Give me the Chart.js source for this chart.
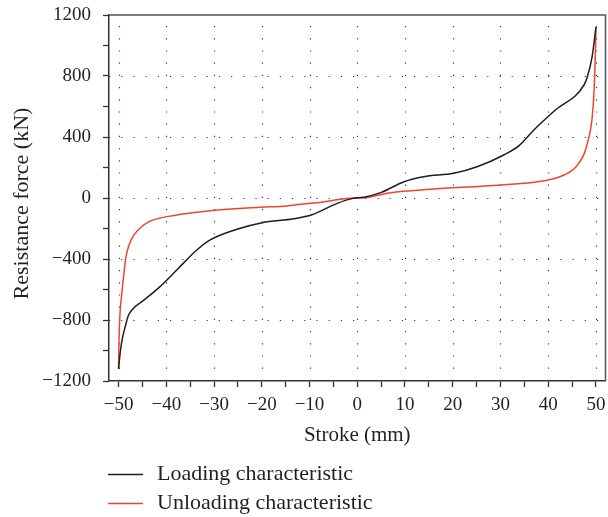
<!DOCTYPE html>
<html>
<head>
<meta charset="utf-8">
<script src="https://cdn.jsdelivr.net/npm/chart.js@4/dist/chart.umd.min.js"></script>
<style>
  html, body { margin: 0; padding: 0; background: #fff; }
  #wrap { width: 608px; height: 517px; }
</style>
</head>
<body>
<div id="wrap"><canvas id="c" width="608" height="517"></canvas></div>
<script>
// ---- Data ----
const loadingStroke = [-50, -49.6, -49.2, -48.6, -48.0, -47.2, -44.5, -41.3, -37.5, -33.6, -30.8, -25.2, -19.9, -13.3, -9.5, -4.2, -1.1, 1.4, 4.9, 9.8, 13.9, 20.2, 25.1, 30.7, 33.9, 37, 41.5, 47.5, 48.2, 49.2, 50];
const loadingForce  = [-1120, -1000, -920, -844, -775, -734, -665, -581, -462, -341, -275, -205, -162, -136, -110, -35, -4, 5, 35, 107, 140, 162, 205, 282, 343, 446, 577, 741, 795, 927, 1120];

const unloadingStroke = [-50, -49.9, -49.7, -49.3, -48.87, -48.5, -47.8, -46.8, -45.4, -43.6, -41.5, -38.7, -34.9, -30.8, -20.3, -14.7, -11.9, -8.4, -1.4, 1.4, 7, 15.3, 30, 39.1, 43.3, 46.1, 48.2, 49.5, 49.9, 50];
const unloadingForce  = [-1120, -930, -760, -620, -494, -395, -308, -243, -195, -155, -133, -116, -98, -83, -61, -52, -41, -31, -1, 1, 35, 57, 85, 113, 151, 216, 359, 643, 970, 1120];

const seriesNames = ['Loading characteristic', 'Unloading characteristic'];
const seriesColors = ['#1e1e1e', '#f0452a'];

const xTickValues = [-50, -40, -30, -20, -10, 0, 10, 20, 30, 40, 50];
const yTickValues = [-1200, -800, -400, 0, 400, 800, 1200];
const xGridValues = [-50, -40, -30, -20, -10, 0, 10, 20, 30, 40, 50];
const yGridValues = [-800, -400, 0, 400, 800];

const FONT = "'Liberation Serif', 'DejaVu Serif', serif";
const fmt = v => (v < 0 ? '\u2212' + Math.abs(v) : String(v));
const near = (v, step) => Math.abs(v - Math.round(v / step) * step) < 1e-6;

const toPts = (xs, ys) => xs.map((x, i) => ({ x: x, y: ys[i] }));

const dottedGrid = {
  id: 'dottedGrid',
  beforeDatasetsDraw(chart) {
    const { ctx, chartArea: a, scales: { x, y } } = chart;
    ctx.save();
    ctx.strokeStyle = '#3a3a3a';
    ctx.lineWidth = 1.2;
    ctx.setLineDash([1.2, 11]);
    xGridValues.forEach(v => {
      const px = Math.round(x.getPixelForValue(v)) + 0.5;
      ctx.beginPath(); ctx.moveTo(px, a.bottom); ctx.lineTo(px, a.top); ctx.stroke();
    });
    yGridValues.forEach(v => {
      const py = Math.round(y.getPixelForValue(v)) + 0.5;
      ctx.beginPath(); ctx.moveTo(a.left, py); ctx.lineTo(a.right, py); ctx.stroke();
    });
    ctx.restore();
  },
  afterDatasetsDraw(chart) {
    const { ctx, chartArea: a } = chart;
    ctx.save();
    ctx.strokeStyle = '#555';
    ctx.lineWidth = 1.5;
    ctx.setLineDash([]);
    ctx.beginPath();
    ctx.moveTo(a.left, a.top);
    ctx.lineTo(a.right, a.top);
    ctx.lineTo(a.right, a.bottom);
    ctx.stroke();
    ctx.restore();
  }
};

const bottomLegend = {
  id: 'bottomLegend',
  afterDraw(chart) {
    const { ctx, chartArea: a } = chart;
    ctx.save();
    ctx.font = "22px " + FONT;
    ctx.textBaseline = 'middle';
    ctx.textAlign = 'left';
    chart.data.datasets.forEach((ds, i) => {
      const yy = a.bottom + 93 + i * 29;
      ctx.strokeStyle = ds.borderColor;
      ctx.lineWidth = 1.5;
      ctx.beginPath(); ctx.moveTo(a.left - 1, yy + 0.5); ctx.lineTo(a.left + 34, yy + 0.5); ctx.stroke();
      ctx.fillStyle = '#231f20';
      ctx.fillText(ds.label, a.left + 48, yy);
    });
    ctx.restore();
  }
};

new Chart(document.getElementById('c'), {
  type: 'line',
  data: {
    datasets: [
      { label: seriesNames[0], data: toPts(loadingStroke, loadingForce), borderColor: seriesColors[0], borderWidth: 1.5, pointRadius: 0, cubicInterpolationMode: 'monotone', fill: false },
      { label: seriesNames[1], data: toPts(unloadingStroke, unloadingForce), borderColor: seriesColors[1], borderWidth: 1.5, pointRadius: 0, cubicInterpolationMode: 'monotone', fill: false }
    ]
  },
  options: {
    responsive: false,
    devicePixelRatio: 1,
    animation: false,
    layout: { padding: { left: 0, right: 2.5, top: 15, bottom: 66 } },
    plugins: { legend: { display: false }, tooltip: { enabled: false } },
    scales: {
      x: {
        type: 'linear', min: -52, max: 52,
        afterBuildTicks: s => { s.ticks = s.ticks.filter(t => near(t.value, 5)).map(t => ({ value: Math.round(t.value) })); },
        afterFit: s => { s.height = 70; s.paddingLeft = 0; s.paddingRight = 0; },
        ticks: { stepSize: 5, includeBounds: false, autoSkip: false, maxRotation: 0, padding: 7, color: '#231f20', font: { family: FONT, size: 19 },
          callback: v => { const r = Math.round(v); return (xTickValues.includes(r) ? fmt(r) : ''); } },
        grid: { drawOnChartArea: false, tickLength: 6, tickColor: '#333', tickWidth: 1.3 },
        border: { color: '#333', width: 1.5 },
        title: { display: true, text: 'Stroke (mm)', color: '#231f20', font: { family: FONT, size: 21 }, padding: { top: 0, bottom: 2.5 } }
      },
      y: {
        type: 'linear', min: -1200, max: 1200,
        afterFit: s => { s.width = 109; s.paddingTop = 0; s.paddingBottom = 0; },
        ticks: { stepSize: 200, autoSkip: false, padding: 12, color: '#231f20', font: { family: FONT, size: 19 },
          callback: v => { const r = Math.round(v); return (yTickValues.includes(r) ? fmt(r) : ''); } },
        grid: { drawOnChartArea: false, tickLength: 6, tickColor: '#333', tickWidth: 1.3 },
        border: { color: '#333', width: 1.5 },
        title: { display: true, text: 'Resistance force (kN)\u2002', color: '#231f20', font: { family: FONT, size: 22 }, padding: { top: 9, bottom: 0 } }
      }
    }
  },
  plugins: [dottedGrid, bottomLegend]
});
</script>
</body>
</html>
